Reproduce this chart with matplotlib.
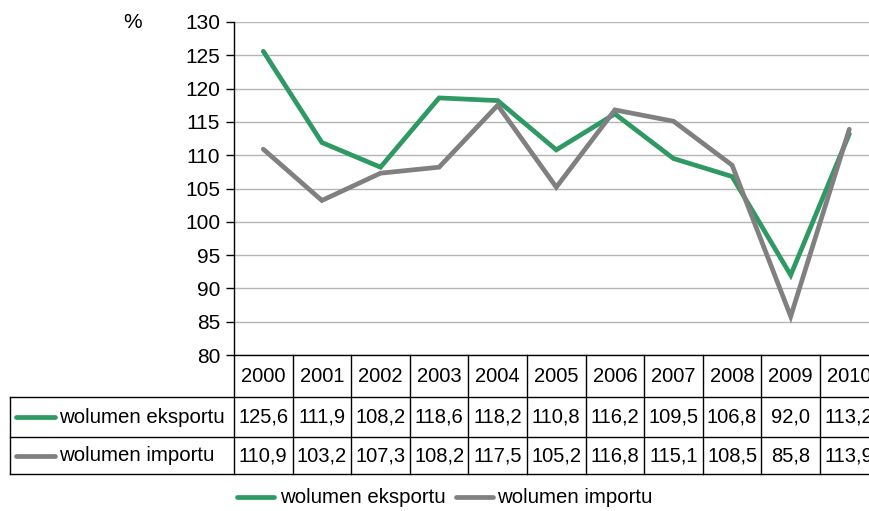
import matplotlib
matplotlib.use("Agg")
import matplotlib.pyplot as plt
from matplotlib.transforms import blended_transform_factory
from matplotlib.lines import Line2D
from matplotlib import font_manager

# ---- data -------------------------------------------------------------
years = ["2000", "2001", "2002", "2003", "2004", "2005",
         "2006", "2007", "2008", "2009", "2010"]
export_vol = [125.6, 111.9, 108.2, 118.6, 118.2, 110.8, 116.2, 109.5, 106.8, 92.0, 113.2]
import_vol = [110.9, 103.2, 107.3, 108.2, 117.5, 105.2, 116.8, 115.1, 108.5, 85.8, 113.9]
series_names = ["wolumen eksportu", "wolumen importu"]
y_ticks = list(range(80, 131, 5))

GREEN = "#2e9963"
GRAY = "#808080"

available = {f.name for f in font_manager.fontManager.ttflist}
family = [f for f in ["Liberation Sans", "DejaVu Sans"] if f in available]
plt.rcParams["font.family"] = family

W, H = 869, 511
fig = plt.figure(figsize=(W / 100, H / 100), dpi=100)

# plot area in pixels
left_px, right_px, top_px, bot_px = 234, 878.6, 22, 355
ax = fig.add_axes([left_px / W, 1 - bot_px / H,
                   (right_px - left_px) / W, (bot_px - top_px) / H])

x = list(range(len(years)))
ax.plot(x, export_vol, color=GREEN, lw=3.4, solid_capstyle="round",
        solid_joinstyle="miter", zorder=3, clip_on=False)
ax.plot(x, import_vol, color=GRAY, lw=3.4, solid_capstyle="round",
        solid_joinstyle="miter", zorder=3, clip_on=False)

ax.set_xlim(-0.5, len(years) - 0.5)
ax.set_ylim(80, 130)
ax.set_yticks(y_ticks)
ax.set_yticklabels([str(v) for v in y_ticks], fontsize=15)
ax.set_xticks([])
ax.yaxis.grid(True, color="#b4b4b4", lw=1.0)
ax.set_axisbelow(True)
for s in ["top", "right"]:
    ax.spines[s].set_visible(False)
ax.spines["left"].set_color("black")
ax.spines["left"].set_linewidth(1.0)
ax.spines["bottom"].set_color("black")
ax.spines["bottom"].set_linewidth(1.0)
ax.tick_params(axis="y", direction="out", length=6, width=1, pad=4, colors="black")

# "%" unit label
fig.text(133 / W, 1 - 22 / H, "%", fontsize=15, ha="center", va="center")

# ---- data table below the plot ---------------------------------------
ax_h = bot_px - top_px
def ay(px):
    return (bot_px - px) / ax_h

trans = blended_transform_factory(ax.transData, ax.transAxes)
row_top_1, row_top_2, row_bot = 397, 437, 474
tbl_left_px = 10
tbl_left_data = -0.5 - (left_px - tbl_left_px) / ((right_px - left_px) / len(years))

line_kw = dict(color="black", lw=1.0, transform=trans, clip_on=False)
# horizontal rules
for py in (row_top_1, row_top_2, row_bot):
    ax.add_line(Line2D([tbl_left_data, len(years) - 0.5], [ay(py), ay(py)], **line_kw))
# vertical rules
ax.add_line(Line2D([tbl_left_data, tbl_left_data], [ay(row_top_1), ay(row_bot)], **line_kw))
for i in range(len(years) + 1):
    xv = i - 0.5
    ax.add_line(Line2D([xv, xv], [0, ay(row_bot)], **line_kw))

hdr_y = ay((bot_px + row_top_1) / 2)
r1_y = ay((row_top_1 + row_top_2) / 2)
r2_y = ay((row_top_2 + row_bot) / 2)
for i, yr in enumerate(years):
    ax.text(i, hdr_y, yr, transform=trans, ha="center", va="center",
            fontsize=14.5, clip_on=False)
    ax.text(i, r1_y, f"{export_vol[i]:.1f}".replace(".", ","), transform=trans,
            ha="center", va="center", fontsize=14.5, clip_on=False)
    ax.text(i, r2_y, f"{import_vol[i]:.1f}".replace(".", ","), transform=trans,
            ha="center", va="center", fontsize=14.5, clip_on=False)

# series keys inside the table
for name, col, yy in ((series_names[0], GREEN, r1_y), (series_names[1], GRAY, r2_y)):
    fy = 1 - (bot_px - yy * ax_h) / H
    fig.add_artist(Line2D([16 / W, 55 / W], [fy, fy], color=col, lw=3.4,
                          solid_capstyle="round"))
    fig.text(59 / W, fy, name, fontsize=14.7, ha="left", va="center")

# ---- legend below the table ------------------------------------------
leg_y = 1 - 497 / H
fig.add_artist(Line2D([237 / W, 274 / W], [leg_y, leg_y], color=GREEN, lw=3.4,
                      solid_capstyle="round"))
fig.text(280 / W, leg_y, series_names[0], fontsize=14.7, ha="left", va="center")
fig.add_artist(Line2D([456 / W, 493 / W], [leg_y, leg_y], color=GRAY, lw=3.4,
                      solid_capstyle="round"))
fig.text(497 / W, leg_y, series_names[1], fontsize=14.7, ha="left", va="center")

fig.savefig("out.png", dpi=100)
